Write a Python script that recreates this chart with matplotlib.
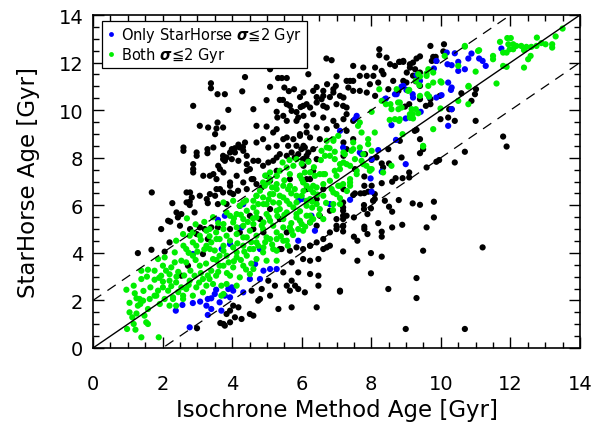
import numpy as np
import matplotlib
matplotlib.use("Agg")
import matplotlib.pyplot as plt
from matplotlib.ticker import MultipleLocator
from matplotlib.lines import Line2D

# all stars (isochrone age, StarHorse age) [Gyr]
all_stars = [
    (2.88, 10.18), (3.39, 11.13), (3.39, 10.92), (3.58, 10.67), (3.79, 10.67), (3.89, 10.01),
    (4.37, 11.39), (4.29, 10.79), (4.61, 10.04), (5.09, 11.72), (5.09, 10.98), (4.99, 10.42),
    (5.32, 11.35), (5.43, 11.35), (5.57, 11.35), (5.50, 10.95), (5.63, 10.80), (5.37, 10.43),
    (5.46, 10.43), (5.78, 10.88), (5.95, 10.55), (5.90, 11.93), (6.19, 11.51), (5.66, 10.18),
    (5.85, 9.92), (5.97, 10.13), (6.43, 10.97), (6.62, 10.81), (6.73, 11.09), (6.71, 12.17),
    (6.86, 12.10), (7.00, 11.42), (6.98, 11.02), (6.91, 10.88), (6.43, 10.55), (6.57, 10.46),
    (6.81, 10.55), (6.24, 10.11), (6.62, 10.18), (7.19, 10.18), (7.29, 9.83), (3.07, 9.34),
    (3.31, 9.27), (3.55, 9.23), (3.74, 9.27), (3.58, 9.48), (2.60, 8.43), (2.60, 8.29),
    (2.98, 8.22), (2.98, 8.08), (3.29, 8.36), (3.29, 8.19), (2.88, 7.73), (2.88, 7.52),
    (2.88, 7.38), (3.17, 7.24), (3.46, 7.31), (3.74, 8.08), (3.74, 7.94), (3.94, 8.22),
    (4.08, 8.40), (4.18, 8.55), (4.31, 8.45),
    (5.57, 10.25), (5.28, 9.93), (5.30, 9.69), (5.47, 9.76), (5.71, 9.97), (6.04, 10.18),
    (5.90, 9.69), (5.85, 9.55), (5.57, 9.55), (3.51, 8.99), (4.70, 9.34), (4.99, 9.31),
    (5.28, 9.20), (5.18, 9.06), (3.46, 8.43), (3.74, 8.57), (3.84, 8.01), (3.99, 8.36),
    (4.08, 8.22), (4.22, 8.43), (4.37, 8.64), (4.32, 8.29), (4.70, 8.64), (4.42, 8.08),
    (4.89, 8.78), (5.04, 8.43), (5.28, 8.50), (5.47, 8.78), (5.57, 8.85), (5.76, 8.78),
    (5.95, 8.99), (6.14, 9.06), (5.85, 8.50), (5.61, 8.50), (3.36, 7.24), (3.60, 7.66),
    (3.65, 7.52), (3.79, 7.87), (3.99, 7.94), (4.18, 7.87), (4.42, 7.73), (4.51, 7.52),
    (4.61, 7.87), (4.75, 7.87), (4.89, 7.66), (5.04, 7.80), (5.18, 7.87), (5.28, 8.01),
    (5.37, 8.15), (5.57, 8.08), (5.71, 8.22), (5.80, 8.01), (5.90, 8.15), (5.99, 8.36),
    (6.04, 7.94), (6.19, 7.87), (6.09, 8.43), (6.19, 8.22), (2.69, 6.54), (2.84, 6.33),
    (3.07, 6.40), (3.36, 6.47), (3.51, 6.40), (3.65, 6.68), (3.74, 6.54), (3.94, 6.82),
    (4.03, 6.47), (4.17, 6.61), (4.32, 6.96), (4.42, 6.68), (4.56, 7.10), (4.70, 6.89),
    (4.85, 6.75), (4.99, 7.24), (5.09, 7.03),
    (3.55, 7.10), (3.75, 7.38), (3.94, 6.96), (4.13, 7.24), (4.42, 7.45), (4.61, 7.10),
    (3.55, 6.68), (3.94, 6.54), (3.27, 6.26), (2.79, 6.54), (2.69, 6.12), (2.40, 5.70),
    (1.69, 6.54), (2.16, 5.35), (2.50, 5.14), (2.79, 5.00), (2.98, 4.79), (5.28, 7.45),
    (5.66, 7.10), (6.24, 7.10), (6.62, 6.68), (7.19, 6.12), (7.00, 5.42), (6.81, 5.77),
    (6.52, 5.56), (6.24, 5.28), (6.43, 5.14), (7.00, 5.00), (7.19, 5.14), (6.81, 4.30),
    (6.62, 4.16), (6.24, 4.30),
    (2.28, 6.09), (2.78, 6.15), (2.78, 6.01), (3.30, 6.09), (3.59, 6.05), (2.92, 5.70),
    (2.54, 5.63), (2.44, 5.49), (2.22, 5.31), (1.96, 5.00), (1.68, 4.13), (1.29, 3.99),
    (2.06, 4.05), (3.07, 5.07), (3.21, 5.00), (3.40, 5.07), (3.59, 5.07), (2.99, 0.83),
    (3.66, 1.05), (2.20, 4.44), (2.54, 3.04), (3.30, 4.58), (2.73, 3.46), (3.16, 3.95),
    (5.42, 4.16), (5.66, 4.09), (5.85, 4.23), (6.04, 4.16), (6.24, 4.30), (6.43, 4.44),
    (6.62, 4.58), (6.81, 4.86), (7.00, 5.14), (7.19, 5.42), (6.72, 4.23), (6.48, 3.74),
    (6.24, 3.67), (6.04, 3.74), (5.71, 3.60), (5.47, 3.18), (5.90, 3.18), (6.24, 3.11),
    (6.48, 3.04), (5.71, 2.83), (5.57, 2.62), (5.81, 2.62), (5.90, 2.48), (5.66, 2.41),
    (6.09, 2.34), (6.48, 2.62), (7.10, 2.41), (5.04, 2.83), (5.23, 2.62), (4.85, 2.48),
    (4.56, 2.41), (4.80, 2.06), (4.75, 1.99), (5.09, 2.20), (5.33, 1.64), (5.71, 1.71),
    (6.43, 1.71), (4.03, 1.78), (3.94, 1.57), (4.18, 1.71), (3.84, 1.43), (4.08, 1.29),
    (4.27, 1.22), (4.51, 1.43), (4.61, 1.36), (3.75, 1.01), (3.79, 0.94), (3.94, 1.08),
    (3.84, 6.05), (4.22, 5.98), (4.51, 5.56), (4.80, 5.42), (5.09, 5.84), (5.37, 5.42),
    (4.61, 5.00), (4.22, 4.86), (3.94, 5.00), (4.90, 4.86), (5.57, 4.86), (5.37, 4.16),
    (6.05, 10.74), (6.33, 10.81), (6.62, 10.60), (6.91, 10.74), (7.20, 10.53), (7.48, 10.81),
    (7.87, 10.74), (8.11, 10.60), (6.14, 10.25), (6.43, 10.32), (6.72, 10.11), (7.00, 10.25),
    (7.29, 10.11), (6.05, 9.76), (6.33, 9.83), (6.62, 9.69), (6.91, 9.55), (7.20, 9.62),
    (7.48, 9.55), (6.14, 9.34), (6.43, 9.27), (6.72, 9.20), (7.00, 9.34), (7.29, 9.13),
    (5.95, 8.92), (6.24, 8.85), (6.52, 8.78), (7.20, 8.64), (7.48, 8.78), (6.05, 8.50),
    (6.33, 8.36), (7.29, 8.36), (6.14, 8.08), (6.43, 7.94), (6.05, 7.66), (6.33, 7.45),
    (7.20, 8.08), (7.53, 7.52), (7.82, 8.15), (8.15, 8.01), (8.34, 7.59), (9.59, 7.59),
    (9.49, 8.36), (9.40, 8.78), (9.25, 9.13), (8.82, 8.71), (8.49, 8.36), (7.20, 6.68),
    (6.14, 7.10), (6.14, 6.68), (6.43, 6.26),
    (8.23, 12.56), (8.23, 12.31), (8.44, 12.21), (8.80, 12.03), (8.92, 12.07), (7.48, 11.86),
    (7.77, 11.79), (8.11, 11.79), (8.30, 11.65), (8.54, 11.93), (8.68, 11.86), (8.35, 11.51),
    (8.63, 11.23), (9.02, 11.58), (9.11, 11.79), (9.26, 11.72), (9.40, 11.58), (8.06, 11.44),
    (7.87, 11.44), (7.67, 11.44), (7.39, 11.23), (7.48, 11.23), (7.29, 11.23), (7.96, 11.09),
    (8.20, 11.16), (8.49, 10.88), (8.78, 10.81), (7.67, 10.81), (7.34, 10.95), (7.10, 10.60),
    (9.70, 12.70), (10.09, 12.77), (10.07, 12.47), (9.78, 12.24), (9.85, 12.24), (9.74, 12.07),
    (9.87, 12.07), (9.40, 12.26), (9.30, 12.17), (9.20, 12.00), (9.11, 11.93), (8.92, 12.03),
    (8.82, 12.03), (9.20, 11.45), (9.01, 11.16), (8.92, 11.23), (9.28, 11.21), (9.40, 11.02),
    (9.40, 10.46), (9.57, 10.18), (9.70, 10.46), (9.70, 10.25), (9.97, 10.60), (8.97, 10.15),
    (9.09, 10.25), (10.59, 10.71), (10.88, 10.39), (11.01, 10.88), (10.98, 10.67), (10.24, 10.04),
    (10.31, 10.04), (9.99, 9.62), (10.21, 9.69), (10.40, 9.55), (11.00, 9.55), (9.30, 9.17),
    (11.79, 8.89), (11.89, 8.47), (9.40, 8.19), (10.69, 8.25),
    (8.87, 8.01), (8.51, 7.76), (9.95, 7.90), (9.87, 7.83), (10.40, 7.80), (9.09, 7.38),
    (9.09, 7.17), (8.90, 7.14), (8.70, 7.14), (8.60, 6.99), (8.30, 6.93), (8.01, 7.91),
    (8.30, 7.76), (7.80, 7.21), (7.80, 6.82), (8.01, 6.82), (7.80, 6.51), (7.91, 6.57),
    (7.69, 6.50), (7.53, 6.50), (7.48, 6.43), (8.10, 6.47), (8.10, 6.26), (8.05, 6.19),
    (8.39, 6.19), (8.51, 5.94), (8.60, 5.73), (8.79, 6.22), (9.19, 6.08), (9.40, 6.02),
    (9.80, 6.15), (7.79, 6.01), (7.79, 5.84), (7.99, 5.87), (7.89, 5.63), (7.19, 5.91),
    (7.19, 5.77), (7.19, 5.56), (7.29, 5.56), (7.50, 5.49), (9.80, 5.49), (9.59, 5.07),
    (8.89, 5.18), (8.60, 5.07), (8.20, 5.25), (8.30, 4.89), (7.80, 5.10), (7.80, 5.00),
    (7.89, 4.79), (7.19, 5.11), (7.19, 4.90), (7.50, 4.68), (7.60, 4.51), (8.30, 4.68),
    (7.99, 3.99), (7.19, 4.06), (7.60, 3.67), (8.30, 3.84), (9.49, 4.09), (7.99, 3.14),
    (9.30, 2.94), (8.49, 2.48), (7.10, 2.37), (9.30, 2.10), (11.20, 4.23), (8.99, 0.80),
    (10.69, 0.80),
]

# StarHorse sigma <= 2 Gyr only
sh_only = [
    (10.40, 12.39), (10.88, 12.38), (10.79, 12.17), (11.10, 12.17), (11.20, 12.07), (11.29, 11.86),
    (9.87, 12.07), (9.80, 11.75), (10.19, 11.93), (10.31, 11.89), (10.50, 12.03), (10.50, 11.65),
    (10.69, 11.72), (11.74, 12.59), (9.30, 11.47), (10.21, 11.16), (10.31, 10.95), (10.29, 10.85),
    (8.92, 11.02), (9.01, 10.85), (9.19, 10.67), (9.20, 10.53), (9.66, 10.57), (9.87, 10.53),
    (10.02, 10.63), (9.42, 9.93), (8.99, 9.65), (10.21, 9.34), (10.31, 10.04),
    (8.73, 10.67), (8.42, 10.49), (8.58, 9.37), (8.71, 8.75), (7.19, 8.43), (7.10, 9.13),
    (7.67, 8.22), (8.20, 8.32), (8.30, 7.41), (8.99, 7.73), (7.98, 7.13), (7.39, 6.23),
    (6.00, 6.26), (7.58, 9.76), (8.39, 10.46), (8.68, 10.67), (8.87, 10.99), (7.53, 9.62),
    (9.11, 9.69), (9.40, 11.23), (10.17, 12.42), (7.72, 8.15), (8.01, 7.94), (8.01, 6.57),
    (4.32, 6.05), (3.79, 5.56), (4.27, 5.07), (3.94, 4.37), (3.70, 4.16), (4.80, 4.16),
    (4.66, 3.53), (4.90, 3.25), (5.09, 3.32), (5.28, 3.32), (4.51, 2.90), (4.80, 2.90),
    (3.99, 2.55), (4.03, 2.41), (3.89, 2.48), (3.79, 2.20), (3.94, 2.13), (4.32, 2.34),
    (5.90, 4.51), (6.28, 5.56), (6.81, 6.05), (6.38, 4.93), (5.90, 6.19),
    (3.59, 5.39), (2.87, 3.95), (3.54, 2.45), (3.50, 2.27), (3.30, 2.06), (3.40, 2.09),
    (3.26, 1.78), (3.08, 1.95), (2.87, 1.89), (2.57, 1.81), (2.38, 1.57), (3.30, 1.39),
    (3.40, 1.64), (3.64, 1.92), (2.78, 0.87), (3.69, 1.57),
]

# both methods sigma <= 2 Gyr
both = [
    (13.50, 13.43), (13.30, 13.10), (12.76, 13.05), (13.20, 12.77), (13.20, 12.63), (13.01, 12.77),
    (12.89, 12.82), (12.75, 12.70), (12.60, 12.66), (12.46, 12.66), (12.31, 12.70), (12.17, 12.70),
    (12.08, 12.77), (11.91, 13.03), (12.01, 13.03), (11.94, 12.77), (11.98, 12.56), (11.79, 12.42),
    (11.89, 12.42), (12.08, 12.56), (12.39, 12.52), (12.51, 12.14), (12.58, 12.28), (12.39, 11.79),
    (11.70, 12.87), (11.79, 11.86), (11.89, 11.82), (11.60, 11.12), (11.50, 12.28), (11.50, 12.14),
    (11.10, 12.52), (11.00, 11.62), (10.69, 12.67), (10.80, 11.02), (10.50, 11.86), (10.50, 10.39),
    (10.79, 10.25), (9.99, 11.21), (10.11, 12.28), (9.78, 11.58), (9.59, 11.54), (9.40, 11.41),
    (9.28, 11.23), (9.61, 10.67), (9.66, 10.57), (9.99, 10.07), (9.19, 9.83), (9.11, 9.69),
    (9.20, 9.65), (8.82, 9.62), (9.78, 9.20), (8.90, 8.99), (9.49, 8.47), (9.09, 10.85),
    (8.82, 10.32), (9.38, 11.05),
    (8.58, 10.04), (8.78, 10.04), (8.87, 10.11), (8.68, 9.62), (9.16, 10.04), (9.28, 10.04),
    (9.59, 11.44), (9.64, 11.72), (9.78, 11.16), (10.02, 11.16), (9.64, 11.02), (9.35, 11.51),
    (9.40, 10.60), (10.69, 12.70), (11.07, 12.49), (10.79, 10.99),
    (9.06, 10.81), (8.73, 10.88), (8.30, 10.39), (8.42, 10.25), (8.55, 10.25), (8.77, 10.32),
    (8.23, 10.88), (8.01, 9.93), (9.11, 9.83), (9.35, 9.87), (8.53, 9.59), (8.80, 9.55),
    (7.67, 9.48), (7.72, 9.06), (8.10, 9.06), (7.91, 8.78), (7.67, 8.43), (7.62, 9.34),
    (7.91, 8.57), (6.91, 8.78), (6.91, 8.71), (7.05, 8.92), (6.72, 8.71), (6.72, 8.43),
    (6.95, 8.25), (6.81, 8.08), (6.57, 8.29), (6.67, 8.08), (6.95, 7.94), (7.24, 8.15),
    (7.43, 8.29), (7.48, 8.64), (7.72, 7.87), (7.53, 7.94), (7.86, 7.66), (7.96, 7.52),
    (7.77, 7.73), (7.10, 7.73), (7.29, 7.73), (6.95, 7.45), (7.10, 7.52), (7.39, 7.10),
    (7.39, 6.96), (6.19, 7.83), (6.38, 7.24), (6.52, 7.31), (6.67, 7.31), (6.62, 6.89),
    (6.86, 6.68), (6.91, 6.54), (7.05, 6.82), (6.24, 6.68), (6.33, 6.54), (6.33, 6.82),
    (8.01, 7.52), (8.34, 7.38), (6.00, 7.10),
    (7.20, 8.22), (7.48, 8.36), (7.77, 8.15), (8.01, 8.29), (7.20, 7.80), (7.39, 7.66),
    (7.58, 7.45), (7.58, 7.31), (7.39, 6.82), (7.10, 6.82), (7.96, 7.45), (8.58, 7.66),
    (7.10, 6.05), (6.70, 6.10), (6.90, 5.80), (7.10, 6.30), (7.30, 6.60), (6.50, 5.60),
    (6.30, 5.90), (9.49, 8.50),
    (5.85, 7.94), (5.76, 7.66), (5.57, 7.59), (5.37, 7.45), (5.28, 7.24), (5.09, 7.10),
    (5.04, 6.96), (4.94, 6.82), (4.80, 6.61), (4.70, 6.40), (4.89, 6.33), (5.18, 6.47),
    (5.37, 6.40), (5.61, 6.68), (5.80, 6.68), (6.00, 6.40), (6.14, 6.82), (6.09, 7.38),
    (5.95, 7.24), (5.47, 6.82), (5.28, 6.68),
    (5.09, 7.38), (5.28, 7.24), (5.66, 7.31), (5.95, 7.24), (6.24, 7.38), (6.62, 7.31),
    (7.00, 7.24), (4.89, 6.96), (5.28, 6.89), (5.66, 6.82), (6.04, 6.96), (6.43, 6.75),
    (6.81, 7.03), (7.19, 6.89), (4.70, 6.40), (5.09, 6.47), (5.47, 6.33), (5.85, 6.40),
    (6.24, 6.26), (6.62, 6.40), (7.00, 6.47), (4.22, 5.98), (4.61, 5.91), (4.99, 6.05),
    (5.37, 5.84), (5.76, 5.91), (6.14, 5.98), (6.52, 5.84), (6.91, 6.05), (3.94, 5.56),
    (4.32, 5.42), (4.70, 5.49), (5.09, 5.35), (5.47, 5.42), (5.85, 5.49), (6.24, 5.56),
    (6.62, 5.42), (3.75, 5.00), (4.13, 5.07), (4.51, 4.93), (4.89, 5.00), (5.28, 4.86),
    (5.66, 5.07), (6.04, 4.93), (3.55, 4.58), (3.94, 4.51), (4.32, 4.65), (4.70, 4.44),
    (5.09, 4.58), (5.47, 4.51), (3.36, 4.16), (3.75, 4.09), (4.13, 4.02), (4.51, 4.16),
    (4.89, 4.02), (5.28, 4.09),
    (3.75, 6.12), (4.03, 6.19), (4.32, 6.12), (4.61, 6.19), (4.90, 6.05), (5.18, 6.12),
    (5.57, 6.19), (5.85, 6.12), (6.14, 6.19), (6.43, 6.05), (3.84, 5.70), (4.13, 5.63),
    (4.42, 5.77), (4.70, 5.70), (4.99, 5.63), (5.28, 5.77), (5.57, 5.70), (5.85, 5.63),
    (6.14, 5.56), (6.33, 5.42), (3.75, 5.21), (4.03, 5.28), (4.32, 5.14), (4.61, 5.21),
    (4.90, 5.28), (5.18, 5.14), (5.47, 5.07), (5.71, 4.93), (6.00, 5.21), (6.24, 5.28),
    (3.84, 4.72), (4.13, 4.79), (4.42, 4.65), (4.70, 4.72), (4.99, 4.65), (5.28, 4.58),
    (5.57, 4.51), (3.75, 4.30), (4.03, 4.23), (4.32, 4.30), (4.61, 4.16), (4.90, 4.23),
    (5.18, 4.16), (3.84, 3.88), (4.13, 3.81), (4.42, 3.88), (4.70, 3.74), (4.99, 3.67),
    (5.28, 3.67), (3.75, 3.46), (4.03, 3.39), (4.32, 3.46), (4.61, 3.32), (3.94, 3.04),
    (4.22, 2.97), (4.51, 3.11), (3.84, 2.69), (4.13, 2.62), (3.75, 2.27),
    (0.96, 2.45), (1.17, 2.62), (1.39, 3.25), (1.58, 3.29), (1.25, 2.09), (1.34, 2.06),
    (1.36, 1.85), (1.05, 1.50), (1.13, 1.29), (1.17, 1.01), (0.98, 0.80), (1.22, 0.77),
    (1.39, 0.45), (1.89, 0.45), (1.39, 2.90), (1.77, 2.87), (2.01, 2.79), (2.01, 2.55),
    (1.87, 2.41), (1.77, 2.20), (1.58, 1.64), (1.48, 1.36), (1.53, 1.08), (1.58, 1.01),
    (1.29, 1.78), (1.44, 1.99), (1.63, 2.06), (1.82, 2.20), (1.92, 1.85), (2.06, 2.06),
    (2.20, 1.78), (2.30, 2.06), (2.39, 1.78), (2.59, 2.06), (2.16, 2.41), (2.20, 2.83),
    (2.39, 2.76), (2.25, 3.39), (2.35, 3.60), (2.01, 3.46), (1.87, 3.74), (2.06, 3.81),
    (2.35, 4.02), (2.54, 3.67), (2.68, 3.60), (2.87, 3.88), (2.68, 4.16), (2.39, 4.51),
    (2.59, 4.79), (2.78, 4.72), (2.87, 4.86), (3.07, 4.72), (3.26, 4.93), (3.35, 5.00),
    (3.40, 4.44), (3.54, 4.86), (3.64, 4.58), (2.87, 4.44), (2.97, 4.30), (3.26, 4.30),
    (3.07, 3.46), (2.92, 3.04), (3.16, 2.90), (3.35, 2.90), (3.45, 2.69), (2.97, 2.55),
    (3.16, 2.34), (2.78, 2.83), (2.68, 2.48), (2.54, 2.55), (2.87, 2.20), (2.59, 2.20),
    (2.30, 2.13), (3.64, 3.46), (3.45, 3.74), (3.64, 3.88), (3.54, 3.04), (3.69, 2.62),
    (3.69, 2.20), (3.26, 2.62), (1.96, 3.04), (1.77, 3.25),
    (2.45, 3.20), (2.62, 3.05), (2.80, 3.25), (2.95, 3.70), (3.10, 3.15), (3.25, 3.55),
    (3.40, 3.25), (3.55, 3.70), (3.00, 4.05), (3.20, 4.15), (3.50, 4.10), (2.60, 4.30),
    (2.75, 4.00), (3.10, 4.55), (3.35, 4.70), (3.60, 5.25), (3.45, 5.50), (3.20, 5.30),
    (2.95, 5.20), (2.70, 5.45), (2.20, 3.10), (2.45, 2.35), (2.75, 2.65), (3.05, 2.75),
    (3.30, 3.05), (3.60, 3.20), (3.85, 3.15), (3.90, 3.60), (4.05, 3.65), (4.25, 3.70),
    (4.40, 3.30), (4.55, 3.55), (4.15, 4.40), (4.35, 4.05), (4.55, 4.45), (4.75, 4.30),
    (4.95, 4.45), (5.15, 4.35), (5.40, 4.70), (5.60, 4.30), (5.75, 4.75), (5.90, 5.00),
    (6.10, 5.10), (5.95, 5.35), (5.70, 5.25), (5.50, 5.60), (5.30, 5.55), (5.05, 5.50),
    (4.85, 5.15), (4.60, 5.45), (4.45, 5.30), (4.25, 5.60), (4.05, 5.45), (4.40, 6.20),
    (4.75, 6.05), (5.05, 6.25), (5.35, 6.10), (5.65, 6.05), (5.95, 5.75), (6.30, 6.15),
    (6.45, 6.45), (6.05, 6.60), (5.70, 6.50), (5.50, 7.05), (5.15, 6.75), (4.95, 7.25),
    (5.45, 7.80), (5.65, 7.90), (6.00, 7.75), (6.35, 7.60), (6.55, 7.90), (6.80, 8.40),
    (1.65, 2.55), (1.90, 2.95), (2.10, 3.25), (2.25, 2.60), (2.40, 3.00), (1.55, 3.00),
    (1.45, 2.40), (1.20, 2.30), (1.05, 1.90), (1.25, 1.45),
]

fig = plt.figure(figsize=(6.08, 4.27), dpi=100)
ax = fig.add_axes([93 / 608, 78 / 427, 487 / 608, 333 / 427])

for pts, col in [(all_stars, "black"), (sh_only, "#0000ff"), (both, "#00ee00")]:
    xy = np.array(pts)
    ax.scatter(xy[:, 0], xy[:, 1], s=20, c=col, edgecolors="none", zorder=2)

# one-to-one relation and +/- 2 Gyr band
ref = np.array([0, 14])
ax.plot(ref, ref, color="black", lw=1.0, zorder=3)
ax.plot(ref, ref + 2, color="black", lw=0.9, ls=(0, (8, 6)), zorder=3)
ax.plot(ref, ref - 2, color="black", lw=0.9, ls=(0, (8, 6)), zorder=3)

ax.set_xlim(0, 14)
ax.set_ylim(0, 14)
ax.xaxis.set_major_locator(MultipleLocator(2))
ax.yaxis.set_major_locator(MultipleLocator(2))
ax.xaxis.set_minor_locator(MultipleLocator(0.5))
ax.yaxis.set_minor_locator(MultipleLocator(0.5))
ax.tick_params(which="both", direction="in", top=True, right=True, width=1.0, labelsize=14)
ax.tick_params(which="major", length=8)
ax.tick_params(which="minor", length=4)
ax.tick_params(axis="x", pad=19)
ax.tick_params(axis="y", pad=7)
for sp in ax.spines.values():
    sp.set_linewidth(1.2)

ax.set_xlabel("Isochrone Method Age [Gyr]", fontsize=16.5)
ax.set_ylabel("StarHorse Age [Gyr]", fontsize=16.5)
ax.xaxis.set_label_coords(0.5, -0.15)
ax.yaxis.set_label_coords(-0.108, 0.5)

handles = [
    Line2D([], [], ls="none", marker="o", ms=3.5, mfc="#0000ff", mec="none",
           label=r"Only StarHorse $\boldsymbol{\sigma}$≦2 Gyr"),
    Line2D([], [], ls="none", marker="o", ms=3.5, mfc="#00ee00", mec="none",
           label=r"Both $\boldsymbol{\sigma}$≦2 Gyr"),
]
leg = ax.legend(handles=handles, loc="upper left", bbox_to_anchor=(0.018, 0.982),
                borderaxespad=0, fancybox=False, edgecolor="black", framealpha=1,
                fontsize=10.5, handlelength=0.6, handletextpad=0.45, labelspacing=0.05,
                borderpad=0.3)
leg.get_frame().set_linewidth(0.9)

fig.savefig("out.png", dpi=100)
